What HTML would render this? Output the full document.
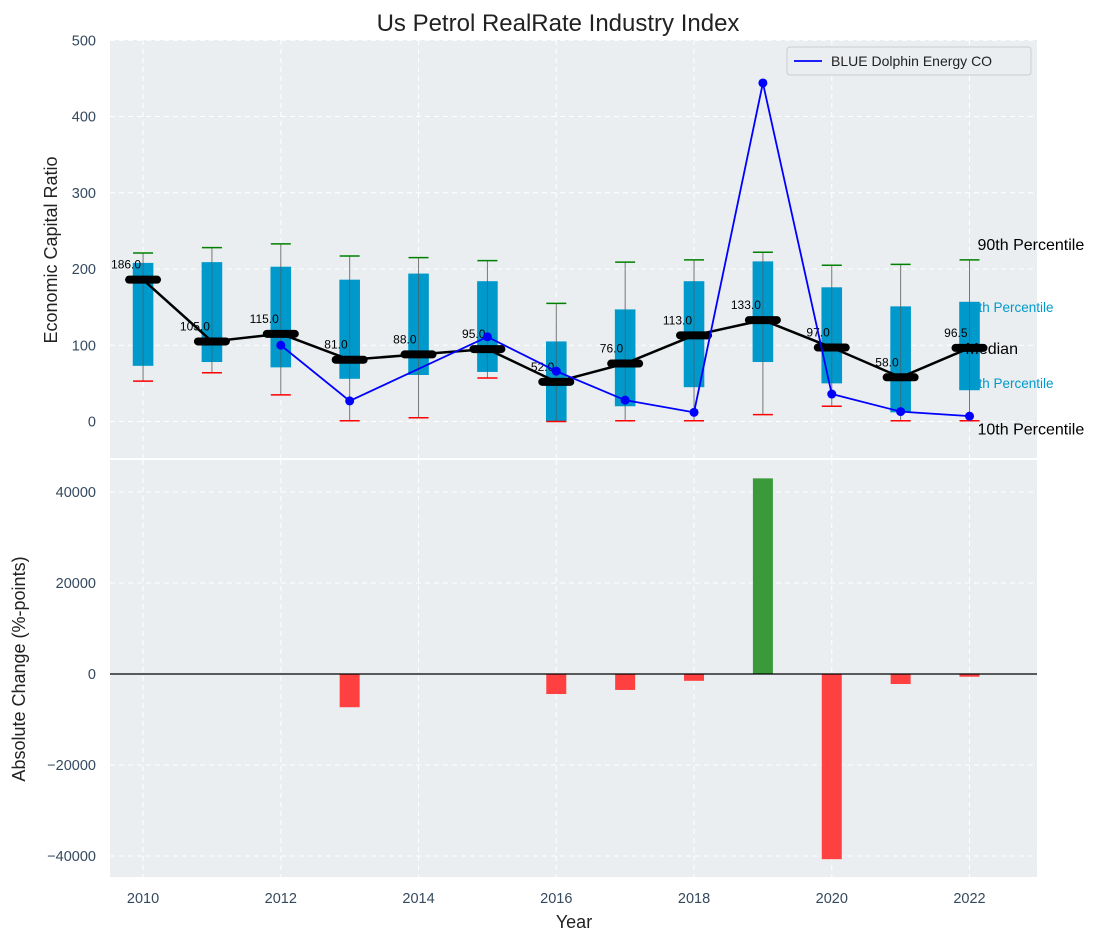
<!DOCTYPE html>
<html><head><meta charset="utf-8"><style>
body{margin:0;background:#fff;}
svg{display:block;font-family:"Liberation Sans","DejaVu Sans",sans-serif;}
</style></head><body>
<svg id="c" width="1112" height="942" xmlns="http://www.w3.org/2000/svg"></svg>
<script>
const years=[2010,2011,2012,2013,2014,2015,2016,2017,2018,2019,2020,2021,2022];
const p90=[221,228,233,217,215,211,155,209,212,222,205,206,212];
const q3=[208,209,203,186,194,184,105,147,184,210,176,151,157];
const medians=[186,105,115,81,88,95,52,76,113,133,97,58,96.5];
const q1=[73,78,71,56,61,65,0,20,45,78,50,12,41];
const p10=[53,64,35,1,5,57,0,1,1,9,20,1,1];
const companyYears=[2012,2013,2015,2016,2017,2018,2019,2020,2021,2022];
const companyVals=[100,27,111,66,28,12,444,36,13,7];
const changeYears=[2013,2016,2017,2018,2019,2020,2021,2022];
const changeVals=[-7300,-4400,-3500,-1500,43000,-40700,-2200,-600];
const topTicks=[0,100,200,300,400,500];
const botTicks=[-40000,-20000,0,20000,40000];
const xTicks=[2010,2012,2014,2016,2018,2020,2022];

const NS="http://www.w3.org/2000/svg";
const svg=document.getElementById('c');
function mk(tag,attrs,parent){const e=document.createElementNS(NS,tag);for(const k in attrs)e.setAttribute(k,attrs[k]);(parent||svg).appendChild(e);return e;}
const L=110,R=1037;
const X=y=>L+(y-2009.52)*(R-L)/(2022.98-2009.52);
const YT=v=>421.5-v*0.7625;
const YB=v=>674-v*0.00455;
const tc="#34495e";

let p=mk('rect',{x:L,y:40,width:R-L,height:418,fill:"#eaeef0"});

p=mk('rect',{x:L,y:460,width:R-L,height:417,fill:"#eaeef0"});


xTicks.forEach(t=>{
  mk('line',{x1:X(t),x2:X(t),y1:40,y2:458,stroke:"#fff","stroke-dasharray":"5,4","stroke-width":1});
  mk('line',{x1:X(t),x2:X(t),y1:460,y2:877,stroke:"#fff","stroke-dasharray":"5,4","stroke-width":1});
  const tx=mk('text',{x:X(t),y:903,"text-anchor":"middle","font-size":14.5,fill:tc});tx.textContent=t;
  
});
topTicks.forEach(t=>{
  mk('line',{x1:L,x2:R,y1:YT(t),y2:YT(t),stroke:"#fff","stroke-dasharray":"5,4"});
  const tx=mk('text',{x:96,y:YT(t)+5,"text-anchor":"end","font-size":14.5,fill:tc});tx.textContent=t;
  
});
botTicks.forEach(t=>{
  mk('line',{x1:L,x2:R,y1:YB(t),y2:YB(t),stroke:"#fff","stroke-dasharray":"5,4"});
  const tx=mk('text',{x:96,y:YB(t)+5,"text-anchor":"end","font-size":14.5,fill:tc});tx.textContent=(t<0?"\u2212"+(-t):t);
  
});

const xl=X(2022)+8;
[["90th Percentile",p90[12],16,"#000",xl,-10],["75th Percentile",q3[12],13.5,"#0099cc",X(2022)-6,10],["25th Percentile",q1[12],13.5,"#0099cc",X(2022)-6,-2],["10th Percentile",p10[12],16,"#000",xl,14]].forEach(a=>{
  const tx=mk('text',{x:a[4],y:YT(a[1])+a[5],"font-size":a[2],fill:a[3]});tx.textContent=a[0];
  
});

years.forEach((y,i)=>{
  const cx=X(y),hw=10.3;
  const wl=mk('line',{x1:cx,x2:cx,y1:YT(p90[i]),y2:YT(p10[i]),stroke:"#777","stroke-width":1});
  
  const b=mk('rect',{x:cx-hw,y:YT(q3[i]),width:2*hw,height:YT(q1[i])-YT(q3[i]),fill:"#0099cc"});
  
  mk('line',{x1:cx,x2:cx,y1:YT(q3[i]),y2:YT(q1[i]),stroke:"#555","stroke-opacity":0.6,"stroke-width":1});
  const g=mk('line',{x1:cx-10,x2:cx+10,y1:YT(p90[i]),y2:YT(p90[i]),stroke:"green","stroke-width":1.5});
  
  const r=mk('line',{x1:cx-10,x2:cx+10,y1:YT(p10[i]),y2:YT(p10[i]),stroke:"red","stroke-width":1.5});
  
});
let pl=mk('polyline',{points:years.map((y,i)=>X(y)+","+YT(medians[i])).join(" "),fill:"none",stroke:"#000","stroke-width":2.5});

years.forEach((y,i)=>{
  const m=mk('line',{x1:X(y)-14,x2:X(y)+14,y1:YT(medians[i]),y2:YT(medians[i]),stroke:"#000","stroke-width":8,"stroke-linecap":"round"});
  
  const t=mk('text',{x:X(y)-2,y:YT(medians[i])-11,"text-anchor":"end","font-size":12,fill:"#000"});t.textContent=medians[i].toFixed(1);
  
});
pl=mk('polyline',{points:companyYears.map((y,i)=>X(y)+","+YT(companyVals[i])).join(" "),fill:"none",stroke:"#0000ff","stroke-width":1.8});

companyYears.forEach((y,i)=>{
  const c=mk('circle',{cx:X(y),cy:YT(companyVals[i]),r:4.5,fill:"#0000ff"});
  
});
let t=mk('text',{x:X(2022)-4,y:YT(medians[12])+6,"font-size":16,fill:"#000"});t.textContent="Median";


const lg=mk('g',{});
mk('rect',{x:787,y:47,width:244,height:28,rx:3,fill:"#eaeef0",stroke:"#ccc"},lg);
mk('line',{x1:794,x2:822,y1:61,y2:61,stroke:"#0000ff","stroke-width":1.8},lg);
t=mk('text',{x:831,y:66,"font-size":14,fill:"#222"},lg);t.textContent="BLUE Dolphin Energy CO";

changeYears.forEach((y,i)=>{
  const v=changeVals[i],y0=YB(Math.max(v,0)),y1=YB(Math.min(v,0));
  const b=mk('rect',{x:X(y)-10,y:y0,width:20,height:y1-y0,fill:v>=0?"#3a9a3a":"#ff4040"});
  
});
mk('line',{x1:L,x2:R,y1:YB(0),y2:YB(0),stroke:"#000","stroke-width":1.2});

t=mk('text',{x:558,y:31,"text-anchor":"middle","font-size":24,fill:"#222"});t.textContent="Us Petrol RealRate Industry Index";

t=mk('text',{x:0,y:0,"text-anchor":"middle","font-size":18,fill:"#222",transform:"translate(57,250) rotate(-90)"});t.textContent="Economic Capital Ratio";

t=mk('text',{x:0,y:0,"text-anchor":"middle","font-size":18,fill:"#222",transform:"translate(25,669) rotate(-90)"});t.textContent="Absolute Change (%-points)";

t=mk('text',{x:574,y:928,"text-anchor":"middle","font-size":18,fill:"#222"});t.textContent="Year";

</script>
</body></html>
